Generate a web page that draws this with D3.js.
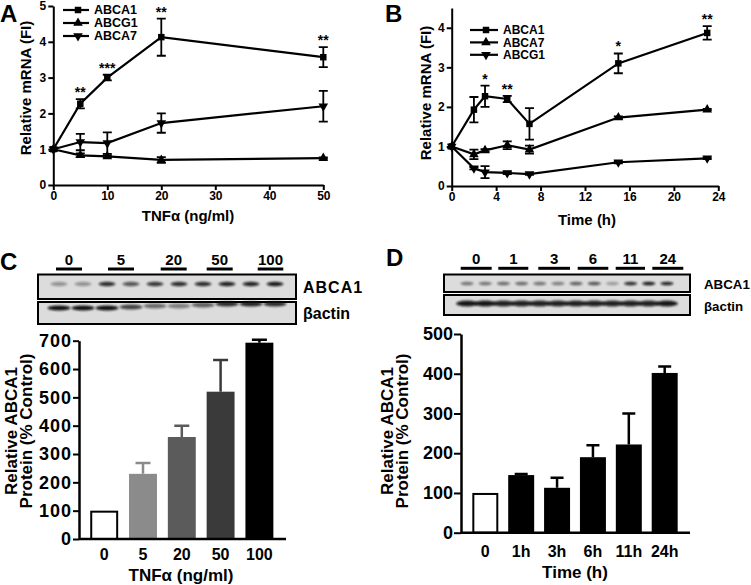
<!DOCTYPE html>
<html><head><meta charset="utf-8">
<script src="https://cdn.jsdelivr.net/npm/d3@7"></script>
<style>
body{margin:0;background:#fff}
text{font-family:"Liberation Sans",Arial,Helvetica,sans-serif;font-weight:bold;fill:#000}
</style>
</head><body><svg id="c" width="751" height="585"></svg>
<script>
// ---------- DATA ----------
// Panel A: mRNA vs TNFa dose
const doseA = [0, 5, 10, 20, 50];
const aABCA1 = [1, 2.27, 3.0, 4.13, 3.57];
const aABCA1Err = [0, 0.13, 0.08, 0.52, 0.28];
const aABCA7 = [1, 1.2, 1.17, 1.73, 2.2];
const aABCA7Err = [0, 0.23, 0.3, 0.27, 0.43];
const aABCG1 = [1, 0.83, 0.8, 0.7, 0.75];
const aABCG1Err = [0, 0.05, 0.03, 0.08, 0.02];
const aStars = ["", "**", "***", "**", "**"];
const aXTicks = [0, 10, 20, 30, 40, 50];
const aYTicks = [0, 1, 2, 3, 4, 5];

// Panel B: mRNA vs time
const timeB = [0, 2, 3, 5, 7, 15, 23];
const bABCA1 = [1, 1.93, 2.27, 2.2, 1.57, 3.1, 3.87];
const bABCA1Err = [0, 0.32, 0.27, 0.08, 0.4, 0.25, 0.17];
const bABCA7 = [1, 0.8, 0.9, 1.03, 0.92, 1.73, 1.93];
const bABCA7Err = [0, 0.12, 0.03, 0.1, 0.1, 0.03, 0.02];
const bABCG1 = [1, 0.45, 0.35, 0.33, 0.3, 0.6, 0.7];
const bABCG1Err = [0, 0.03, 0.15, 0.03, 0.02, 0.03, 0.02];
const bStars = ["", "", "*", "**", "", "*", "**"];
const bXTicks = [0, 4, 8, 12, 16, 20, 24];
const bYTicks = [0, 1, 2, 3, 4];

// Panel C: protein vs dose
const doseC = ["0", "5", "20", "50", "100"];
const cProtein = [100, 230, 360, 520, 693];
const cErr = [0, 38, 40, 112, 10];
const cYTicks = [0, 100, 200, 300, 400, 500, 600, 700];
const cBlotLanes = ["0", "5", "20", "50", "100"];
const cABCA1Band = [0.35, 0.35, 0.85, 0.65, 0.8, 0.85, 0.85, 0.9, 0.9, 0.95];
const cActinBand = [1, 1, 1, 0.75, 0.55, 0.45, 0.6, 0.85, 0.9, 0.85];

// Panel D: protein vs time
const timeD = ["0", "1h", "3h", "6h", "11h", "24h"];
const dProtein = [100, 145, 113, 190, 222, 402];
const dErr = [0, 3, 25, 30, 78, 16];
const dYTicks = [0, 100, 200, 300, 400, 500];
const dBlotLanes = ["0", "1", "3", "6", "11", "24"];
const dABCA1Band = [0.5, 0.5, 0.55, 0.55, 0.5, 0.45, 0.6, 0.65, 0.3, 0.85, 0.95, 0.9];
const dActinBand = [0.95, 0.95, 0.9, 0.9, 0.9, 0.9, 0.9, 0.9, 0.9, 0.9, 0.9, 0.95];

// ---------- DRAWING ----------
const svg = d3.select("#c");
svg.append("rect").attr("width", 751).attr("height", 585).attr("fill", "#fff");
const defs = svg.append("defs");
defs.append("filter").attr("id", "blur").attr("x", "-50%").attr("y", "-100%").attr("width", "200%").attr("height", "300%")
  .append("feGaussianBlur").attr("stdDeviation", "1.2 0.9");

const sym = {
  square: d3.symbol().type(d3.symbolSquare).size(42),
  tri: d3.symbol().type(d3.symbolTriangle).size(40),
  inv: d3.symbol().type(d3.symbolTriangle).size(40)
};
const fmt = d3.format("d");

function styleAxis(g, fs, ls) {
  g.select(".domain").attr("stroke", "#000").attr("stroke-width", 2);
  g.selectAll(".tick line").attr("stroke", "#000").attr("stroke-width", 2);
  g.selectAll(".tick text").attr("font-size", fs).attr("font-family", '"Liberation Sans",Arial,sans-serif')
    .attr("font-weight", "bold").attr("fill", "#000").attr("letter-spacing", ls || 0);
}

function marker(g, shape, x, y) {
  return g.append("path").attr("d", sym[shape]()).attr("fill", "#000")
    .attr("transform", `translate(${x},${y})` + (shape === "inv" ? " rotate(180)" : ""));
}

function linePanel(cfg) {
  const g = svg.append("g");
  const x = d3.scaleLinear().domain(cfg.xDomain).range(cfg.xRange);
  const y = d3.scaleLinear().domain(cfg.yDomain).range(cfg.yRange);
  const xa = g.append("g").attr("transform", `translate(0,${cfg.yRange[0]})`)
    .call(d3.axisBottom(x).tickValues(cfg.xTicks).tickFormat(fmt).tickSize(5).tickSizeOuter(0).tickPadding(1));
  styleAxis(xa, 12);
  const ya = g.append("g").attr("transform", `translate(${cfg.xRange[0]},0)`)
    .call(d3.axisLeft(y).tickValues(cfg.yTicks).tickFormat(fmt).tickSize(5).tickSizeOuter(0).tickPadding(2));
  styleAxis(ya, 12);

  cfg.series.forEach(s => {
    const pts = cfg.xs.map((xv, i) => [x(xv), y(s.v[i])]);
    g.append("path").attr("d", d3.line()(pts)).attr("fill", "none").attr("stroke", "#000").attr("stroke-width", 2.2);
    cfg.xs.forEach((xv, i) => {
      if (s.e[i] > 0) {
        const cx = x(xv), t = y(s.v[i] + s.e[i]), b = y(s.v[i] - s.e[i]);
        g.append("path").attr("d", `M${cx},${t}V${b}M${cx - 4.5},${t}H${cx + 4.5}M${cx - 4.5},${b}H${cx + 4.5}`)
          .attr("stroke", "#000").attr("stroke-width", 1.8).attr("fill", "none");
      }
      marker(g, s.shape, x(xv), y(s.v[i]));
    });
    if (s.stars) {
      cfg.xs.forEach((xv, i) => {
        if (s.stars[i]) g.append("text").attr("x", x(xv)).attr("y", y(s.v[i] + s.e[i]) - 2)
          .attr("text-anchor", "middle").attr("font-size", 14).text(s.stars[i]);
      });
    }
  });
  cfg.legend.forEach((l, i) => {
    const ly = cfg.legPos[1] + i * cfg.legGap;
    g.append("line").attr("x1", cfg.legPos[0]).attr("x2", cfg.legPos[0] + cfg.legLen).attr("y1", ly).attr("y2", ly)
      .attr("stroke", "#000").attr("stroke-width", 2.2);
    marker(g, l.shape, cfg.legPos[0] + cfg.legLen / 2 + 2, ly);
    g.append("text").attr("x", cfg.legPos[0] + cfg.legLen + 5).attr("y", ly + 4.2).attr("font-size", cfg.legFs).text(l.name);
  });
  g.append("text").attr("x", cfg.xTitle[0]).attr("y", cfg.xTitle[1]).attr("text-anchor", "middle").attr("font-size", 15)
    .text(cfg.xLabel);
  g.append("text").attr("transform", `translate(${cfg.yTitle[0]},${cfg.yTitle[1]}) rotate(-90)`)
    .attr("text-anchor", "middle").attr("font-size", 15).text(cfg.yLabel);
}

linePanel({
  xs: doseA, xDomain: [0, 50], xRange: [53.3, 323.3], yDomain: [0, 5], yRange: [185, 6],
  xTicks: aXTicks, yTicks: aYTicks,
  series: [
    { v: aABCA7, e: aABCA7Err, shape: "inv" },
    { v: aABCG1, e: aABCG1Err, shape: "tri" },
    { v: aABCA1, e: aABCA1Err, shape: "square", stars: aStars }
  ],
  legend: [{ name: "ABCA1", shape: "square" }, { name: "ABCG1", shape: "tri" }, { name: "ABCA7", shape: "inv" }],
  legPos: [63, 10], legGap: 13, legLen: 26, legFs: 12.5,
  xLabel: "TNFα (ng/ml)", xTitle: [188, 221], yLabel: "Relative mRNA (FI)", yTitle: [31, 88]
});

linePanel({
  xs: timeB, xDomain: [0, 24], xRange: [451.7, 718.3], yDomain: [0, 4.5], yRange: [186, 8],
  xTicks: bXTicks, yTicks: bYTicks,
  series: [
    { v: bABCA7, e: bABCA7Err, shape: "tri" },
    { v: bABCG1, e: bABCG1Err, shape: "inv" },
    { v: bABCA1, e: bABCA1Err, shape: "square", stars: bStars }
  ],
  legend: [{ name: "ABCA1", shape: "square" }, { name: "ABCA7", shape: "tri" }, { name: "ABCG1", shape: "inv" }],
  legPos: [470, 30], legGap: 12.4, legLen: 28, legFs: 12,
  xLabel: "Time (h)", xTitle: [587, 225], yLabel: "Relative mRNA (FI)", yTitle: [431, 93]
});

function blot(cfg) {
  const g = svg.append("g");
  cfg.lanes.forEach((lab, i) => {
    const [x0, x1] = cfg.lines[i];
    g.append("text").attr("x", (x0 + x1) / 2).attr("y", cfg.labY).attr("text-anchor", "middle").attr("font-size", 15).text(lab);
    g.append("line").attr("x1", x0).attr("x2", x1).attr("y1", cfg.lineY).attr("y2", cfg.lineY).attr("stroke", "#000").attr("stroke-width", 3);
  });
  [[cfg.box1, cfg.band1, cfg.bandY1, cfg.w1, cfg.h1, "ABCA1"], [cfg.box2, cfg.band2, cfg.bandY2, cfg.w2, cfg.h2, "βactin"]]
    .forEach(([box, bands, by, bw, bh, name]) => {
      g.append("rect").attr("x", cfg.bx0).attr("y", box[0]).attr("width", cfg.bx1 - cfg.bx0).attr("height", box[1] - box[0])
        .attr("fill", "#dcdcdc").attr("stroke", "#000").attr("stroke-width", 2);
      const n = bands.length;
      const step = (cfg.bx1 - cfg.bx0 - 2 * cfg.inset) / n;
      bands.forEach((a, i) => {
        const cx = cfg.bx0 + cfg.inset + step * (i + 0.5);
        const cy = Array.isArray(by) ? by[i] : by;
        g.append("ellipse").attr("cx", cx).attr("cy", cy).attr("rx", bw / 2).attr("ry", bh / 2)
          .attr("fill", "#111").attr("opacity", a).attr("filter", "url(#blur)");
      });
      g.append("text").attr("x", cfg.nameX).attr("y", (box[0] + box[1]) / 2 + 6).attr("font-size", cfg.nameFs)
        .attr("letter-spacing", name === "ABCA1" ? cfg.ls : 0).text(name);
    });
}

function barPanel(cfg) {
  const g = svg.append("g");
  const x = d3.scaleBand().domain(cfg.cats).range(cfg.bandRange).paddingInner(cfg.padIn).paddingOuter(cfg.padOut);
  const y = d3.scaleLinear().domain(cfg.yDomain).range(cfg.yRange);
  cfg.vals.forEach((v, i) => {
    const c = cfg.cats[i], bx = x(c), bw = x.bandwidth();
    if (cfg.err[i] > 0) {
      const cx = bx + bw / 2;
      g.append("path").attr("d", `M${cx},${y(v)}V${y(v + cfg.err[i])}M${cx - cfg.cap},${y(v + cfg.err[i])}H${cx + cfg.cap}`)
        .attr("stroke", cfg.colors[i]).attr("stroke-width", 2.5).attr("fill", "none");
    }
    g.append("rect").attr("x", bx + (i === 0 ? 1 : 0)).attr("y", y(v) + (i === 0 ? 1 : 0))
      .attr("width", bw - (i === 0 ? 2 : 0)).attr("height", y(0) - y(v) - (i === 0 ? 1 : 0))
      .attr("fill", i === 0 ? "#fff" : cfg.colors[i]).attr("stroke", i === 0 ? "#000" : "none").attr("stroke-width", 2);
    g.append("text").attr("x", bx + bw / 2).attr("y", cfg.labY).attr("text-anchor", "middle").attr("font-size", cfg.xfs).text(c);
  });
  g.append("line").attr("x1", cfg.axisX).attr("x2", cfg.axisEnd).attr("y1", y(0)).attr("y2", y(0)).attr("stroke", "#000").attr("stroke-width", 2.5);
  const ya = g.append("g").attr("transform", `translate(${cfg.axisX},0)`)
    .call(d3.axisLeft(y).tickValues(cfg.yTicks).tickFormat(fmt).tickSize(cfg.tick).tickSizeOuter(0).tickPadding(1));
  styleAxis(ya, cfg.yfs, cfg.yls);
  ya.select(".domain").attr("stroke-width", 2.5);
  g.append("text").attr("x", cfg.xTitle[0]).attr("y", cfg.xTitle[1]).attr("text-anchor", "middle").attr("font-size", cfg.tfs).text(cfg.xLabel);
  cfg.yLabels.forEach((t, i) => {
    g.append("text").attr("transform", `translate(${cfg.yTitleX[i]},${cfg.yTitleY}) rotate(-90)`)
      .attr("text-anchor", "middle").attr("font-size", cfg.tfs).text(t);
  });
}

blot({
  lanes: cBlotLanes, labY: 265, lineY: 269,
  lines: [[56, 82], [108, 134], [160.7, 186.7], [206.7, 232.7], [257.7, 283.3]],
  bx0: 38, bx1: 296, inset: 9,
  box1: [274.5, 299], band1: cABCA1Band, bandY1: 284, w1: 17, h1: 4.5,
  box2: [302, 324], band2: cActinBand, bandY2: [308, 308, 308, 307, 306, 306, 305, 304, 304, 304], w2: 23, h2: 5,
  nameX: 303, nameFs: 16, ls: 1
});
blot({
  lanes: dBlotLanes, labY: 264, lineY: 268.3,
  lines: [[460.7, 491.7], [498.3, 528.3], [538.3, 570], [577.7, 608.3], [615.7, 645], [652.3, 683.3]],
  bx0: 444, bx1: 690, inset: 14,
  box1: [274.5, 292], band1: dABCA1Band, bandY1: 283.5, w1: 13, h1: 3.5,
  box2: [295, 315], band2: dActinBand, bandY2: 303.5, w2: 22, h2: 6,
  nameX: 704, nameFs: 13.3, ls: 0
});

barPanel({
  cats: doseC, vals: cProtein, err: cErr, colors: ["#fff", "#8b8b8b", "#5b5b5b", "#3a3a3a", "#000"],
  bandRange: [84.8, 278.8], padIn: 0.28, padOut: 0.14, cap: 7.5, tick: 6,
  yDomain: [0, 700], yRange: [539, 340.7], yTicks: cYTicks, axisX: 79, axisEnd: 286,
  labY: 560, xfs: 16, yfs: 18, yls: 1, tfs: 17, xLabel: "TNFα (ng/ml)", xTitle: [181, 581],
  yLabels: ["Relative ABCA1", "Protein (% Control)"], yTitleX: [17, 32], yTitleY: 431
});
barPanel({
  cats: timeD, vals: dProtein, err: dErr, colors: ["#fff", "#000", "#000", "#000", "#000", "#000"],
  bandRange: [467.3, 682.7], padIn: 0.276, padOut: 0.14, cap: 6.5, tick: 7,
  yDomain: [0, 500], yRange: [532.7, 334], yTicks: dYTicks, axisX: 461, axisEnd: 690,
  labY: 557, xfs: 16, yfs: 18, yls: 0, tfs: 17, xLabel: "Time (h)", xTitle: [575, 578],
  yLabels: ["Relative ABCA1", "Protein (% Control)"], yTitleX: [393, 408], yTitleY: 431
});

[["A", 0, 22], ["B", 385, 22], ["C", 0, 270], ["D", 386, 266]].forEach(([t, x, y]) => {
  svg.append("text").attr("x", x).attr("y", y).attr("font-size", 24).attr("font-weight", "normal").text(t);
});
</script></body></html>
